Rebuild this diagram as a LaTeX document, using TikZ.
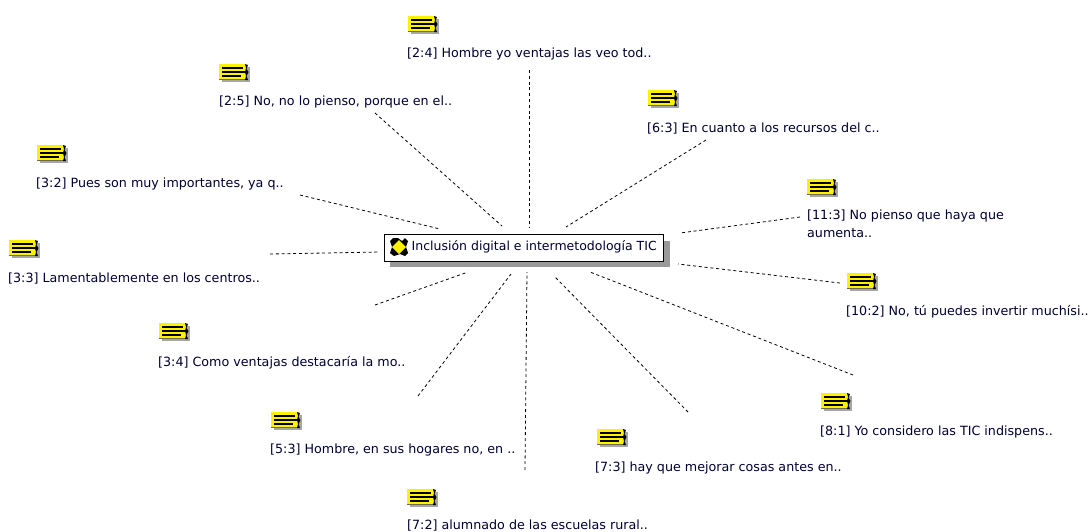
\documentclass[tikz,border=0pt]{standalone}
\usepackage{fontspec}
\setmainfont{DejaVu Sans}
\tikzset{
  x=1pt,y=-1pt,
  notelabel/.style={anchor=north west,inner sep=0pt,font=\fontsize{12.7pt}{17.5pt}\selectfont,text=black!80!blue,align=left},
  linkline/.style={line width=0.8pt,black,dash pattern=on 3pt off 2.8pt},
  hubbox/.style={draw=black,line width=1pt,fill=white,minimum width=279pt,minimum height=27pt,inner sep=0pt},
  hubshadow/.style={fill=black!40,minimum width=280pt,minimum height=26pt,inner sep=0pt},
  pics/noteicon/.style={code={
    \fill[black!35] (3,3) rectangle (30.5,18);
    \fill[yellow] (0,0) rectangle (27,15);
    \draw[black,line width=1.1pt] (3,4) -- (24,4) (3,8) -- (26,8) (3,12) -- (22,12);
    \draw[black!65!yellow,line width=1pt] (0,15.5) -- (27,15.5);
    \fill[black] (26,0) -- (29,1) -- (27.5,5) -- (29.5,8) -- (27.5,12) -- (29,16) -- (26,16) -- (27,12) -- (26,8) -- (27,4) -- cycle;
  }}
}
\begin{document}
\begin{tikzpicture}
\useasboundingbox (0,0) rectangle (1089,531);
\fill[white] (0,0) rectangle (1089,531);
% free ends of the connectors
\foreach \n/\a/\b/\c/\d in {
 a/529/70/529/228, b/375/113/502/226, c/706/140/566/227, d/300/195/440/229,
 e/800/217/680/233, f/270/254/380/252, g/840/283/678/264, h/375/305/468/272,
 i/853/375/590/272, j/688/412/555/277, k/418/396/511/274, l/525/470/527/272}{
  \coordinate (\n1) at (\a,\b);
  \coordinate (\n2) at (\c,\d);
  \draw[linkline] (\n1) -- (\n2);
}
% hub
\node[hubshadow] (hubs) at (530,254) {};
\node[hubbox] (hub) at (523.5,247.5) {};
\node[anchor=west,inner sep=0pt,font=\fontsize{12.5pt}{12pt}\selectfont,text=black!80!blue] (hubt) at (411.5,247) {Inclusión digital e intermetodología TIC};
\fill[black] (398,238) -- (402,241) -- (405,238) -- (408,241) -- (406,247) -- (408,253) -- (405,256) -- (400,254) -- (394,256) -- (390,253) -- (392,247) -- (390,241) -- (393,238) -- cycle;
\fill[yellow] (399,240) -- (406,247) -- (399,254) -- (392,247) -- cycle;
% notes
\foreach \n/\ix/\iy/\tx/\ty/\t in {
 na/408/16/407/48/{[2:4] Hombre yo ventajas las veo tod..},
 nb/219/64/219/96/{[2:5] No, no lo pienso, porque en el..},
 nc/648/90/647/123/{[6:3] En cuanto a los recursos del c..},
 nd/37/145/36/178/{[3:2] Pues son muy importantes, ya q..},
 nf/9/240/8/273/{[3:3] Lamentablemente en los centros..},
 ng/847/273/846/305/{[10:2] No, tú puedes invertir muchísi..},
 nh/159/323/158/356/{[3:4] Como ventajas destacaría la mo..},
 ni/821/393/820/426/{[8:1] Yo considero las TIC indispens..},
 nk/271/412/270/444/{[5:3] Hombre, en sus hogares no, en ..},
 nj/597/429/595/462/{[7:3] hay que mejorar cosas antes en..},
 nl/407/489/407/519.5/{[7:2] alumnado de las escuelas rural..}}{
  \pic at (\ix,\iy) {noteicon};
  \node[notelabel] (\n) at (\tx,\ty) {\t};
}
\pic at (807,179) {noteicon};
\node[notelabel] (ne) at (807,210) {[11:3] No pienso que haya que\\aumenta..};
\end{tikzpicture}
\end{document}
